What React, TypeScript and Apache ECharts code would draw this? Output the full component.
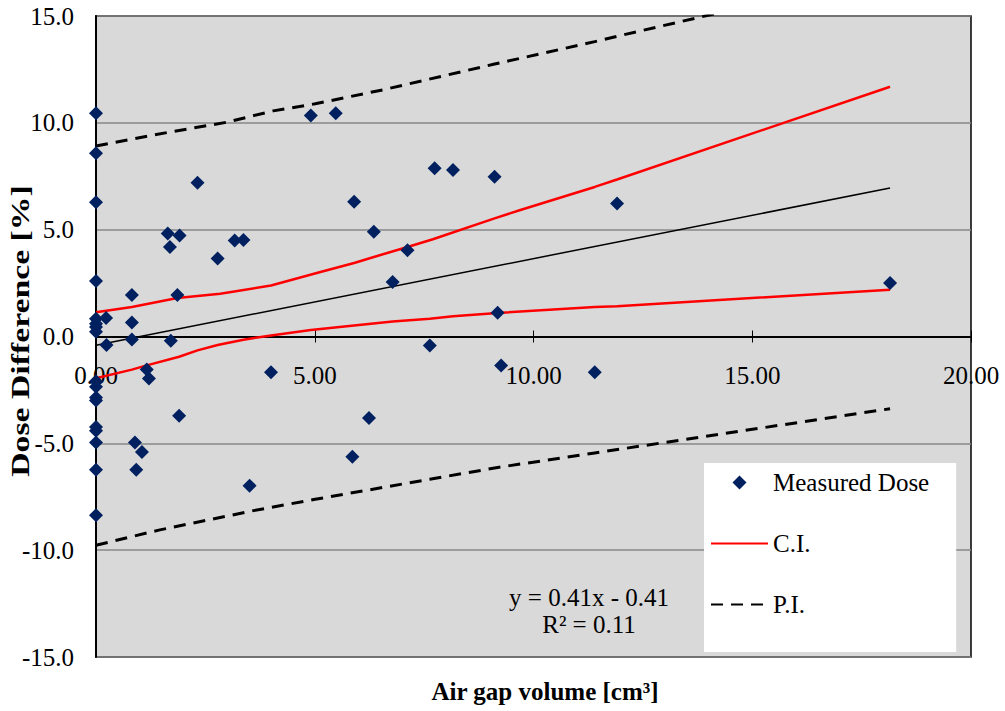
import React, { useEffect, useRef } from "react";
import * as echarts from "echarts";

// Measured dose points (air gap volume [cm3], dose difference [%])
const measuredX = [
  0, 0, 0, 0, 0, 0, 0, 0, 0, 0, 0, 0, 0, 0, 0, 0, 0,
  0.23, 0.24, 0.82, 0.82, 0.82, 0.89, 0.92, 1.05, 1.16, 1.21,
  1.64, 1.69, 1.71, 1.86, 1.9, 1.91, 2.32, 2.78, 3.17, 3.37,
  3.51, 4.0, 4.91, 5.48, 5.86, 5.9, 6.24, 6.35, 6.78, 7.12,
  7.63, 7.74, 8.16, 9.11, 9.18, 9.26, 11.4, 11.91, 18.15,
];
const measuredY = [
  10.45, 8.58, 6.28, 2.6, 0.83, 0.45, 0.22, -2.1, -2.35, -2.85, -3.0, -4.23, -4.41, -4.96, -6.24, -8.36, 0.6,
  0.87, -0.4, 1.94, 0.65, -0.14, -4.96, -6.24, -5.4, -1.55, -1.97,
  4.82, 4.19, -0.2, 1.94, -3.71, 4.73, 7.2, 3.65, 4.49, 4.52,
  -6.98, -1.67, 10.34, 10.45, -5.63, 6.31, -3.82, 4.9, 2.55, 4.04,
  -0.42, 7.87, 7.79, 7.48, 1.11, -1.36, -1.67, 6.23, 2.5,
];

// Confidence interval (upper / lower)
const ciUpperX = [0, 0.82, 1.86, 2.84, 4.0, 5.13, 5.9, 6.35, 7.12, 7.7, 9.11, 9.7, 11.4, 11.91, 18.15];
const ciUpperY = [1.14, 1.38, 1.8, 2.0, 2.39, 3.02, 3.44, 3.72, 4.19, 4.55, 5.53, 5.92, 7.0, 7.35, 11.69];
const ciLowerX = [0, 0.82, 1.16, 1.9, 2.32, 2.78, 3.37, 4.0, 4.91, 5.9, 6.78, 7.63, 8.16, 9.18, 11.4, 11.91, 18.15];
const ciLowerY = [-1.95, -1.55, -1.35, -0.95, -0.65, -0.4, -0.15, 0.05, 0.3, 0.52, 0.7, 0.83, 0.95, 1.1, 1.38, 1.42, 2.19];

// Prediction interval (upper / lower)
const piUpperX = [0, 1.64, 2.99, 4.05, 5.01, 6.57, 9.11, 11.4, 11.91, 18.15];
const piUpperY = [8.92, 9.55, 10.03, 10.56, 10.89, 11.55, 12.75, 13.8, 14.05, 17.0];
const piLowerX = [0, 1.46, 3.6, 5.01, 7.63, 9.18, 11.4, 18.15];
const piLowerY = [-9.77, -9.05, -8.15, -7.62, -6.68, -6.13, -5.45, -3.38];

// Linear trend line
const trendX = [0, 18.15];
const trendY = [-0.41, 6.95];

const xTicks = { min: 0, max: 20, interval: 5 };
const yTicks = { min: -15, max: 15, interval: 5 };

const equationLines = ["y = 0.41x - 0.41", "R² = 0.11"];

const FONT = "'Liberation Serif', 'Times New Roman', serif";

const zip = (xs: number[], ys: number[]) => xs.map((x, i) => [x, ys[i]]);

const GRID_TOP = 16;
const GRID_BOTTOM = 54;
const HEIGHT = 711;
const DASH = [12, 8];

export default function App() {
  const ref = useRef<HTMLDivElement>(null);
  useEffect(() => {
    const chart = echarts.init(ref.current!, null, { renderer: "svg" });
    const lineBase = { type: "line", symbol: "none", silent: true, clip: true };
    const plotH = HEIGHT - GRID_TOP - GRID_BOTTOM;
    const zeroFromBottom = (plotH * (0 - yTicks.min)) / (yTicks.max - yTicks.min);
    const xCommon = {
      type: "value",
      position: "bottom",
      offset: -zeroFromBottom,
      min: xTicks.min,
      max: xTicks.max,
      interval: xTicks.interval,
      splitLine: { show: false },
    };
    chart.setOption({
      animation: false,
      backgroundColor: "#ffffff",
      textStyle: { fontFamily: FONT },
      grid: {
        left: 96,
        right: 34,
        top: GRID_TOP,
        bottom: GRID_BOTTOM,
        show: true,
        backgroundColor: "#d9d9d9",
        borderColor: "#000000",
        borderWidth: 1.5,
      },
      xAxis: [
        {
          ...xCommon,
          axisLine: { show: true, onZero: false, lineStyle: { color: "#000", width: 2 } },
          axisTick: { show: true, length: 6, lineStyle: { color: "#000", width: 1 } },
          axisLabel: {
            show: true,
            showMinLabel: true,
            showMaxLabel: true,
            margin: 26,
            fontSize: 25,
            color: "#000",
            fontFamily: FONT,
            formatter: (v: number) => v.toFixed(2),
          },
        },
        {
          ...xCommon,
          axisLine: { show: false, onZero: false },
          axisTick: { show: true, inside: true, length: 6, lineStyle: { color: "#000", width: 1 } },
          axisLabel: { show: false },
        },
      ],
      yAxis: {
        type: "value",
        min: yTicks.min,
        max: yTicks.max,
        interval: yTicks.interval,
        axisLine: { show: true, onZero: false, lineStyle: { color: "#000", width: 2 } },
        axisTick: { show: false },
        axisLabel: {
          margin: 22,
          fontSize: 25,
          color: "#000",
          fontFamily: FONT,
          formatter: (v: number) => v.toFixed(1),
        },
        splitLine: { show: true, lineStyle: { color: "#878787", width: 1.5 } },
      },
      legend: {
        orient: "vertical",
        left: 704,
        top: 463,
        backgroundColor: "#ffffff",
        padding: [7, 27, 35, 6],
        itemWidth: 57,
        itemHeight: 14,
        itemGap: 36,
        selectedMode: false,
        symbolKeepAspect: true,
        textStyle: { fontSize: 25, color: "#000", fontFamily: FONT },
        data: [
          {
            name: "Measured Dose",
            icon: "path://M0,-1 L1,0 L0,1 L-1,0 Z",
            itemStyle: { color: "#002060", opacity: 1 },
          },
          { name: "C.I.", itemStyle: { opacity: 0 } },
          { name: "P.I.", itemStyle: { opacity: 0 } },
        ],
      },
      graphic: [
        {
          type: "text",
          x: 589,
          y: 597,
          style: {
            text: equationLines[0],
            fontSize: 25,
            fontFamily: FONT,
            fill: "#000",
            align: "center",
            verticalAlign: "middle",
          },
        },
        {
          type: "text",
          x: 589,
          y: 624,
          style: {
            text: equationLines[1],
            fontSize: 25,
            fontFamily: FONT,
            fill: "#000",
            align: "center",
            verticalAlign: "middle",
          },
        },
        {
          type: "text",
          x: 545,
          y: 691,
          style: {
            text: "Air gap volume [cm³]",
            fontSize: 25,
            fontWeight: "bold",
            fontFamily: FONT,
            fill: "#000",
            align: "center",
            verticalAlign: "middle",
          },
        },
        {
          type: "text",
          x: 21,
          y: 331,
          rotation: Math.PI / 2,
          scaleX: 1.35,
          style: {
            text: "Dose Difference [%]",
            fontSize: 25,
            fontWeight: "bold",
            fontFamily: FONT,
            fill: "#000",
            align: "center",
            verticalAlign: "middle",
          },
        },
      ],
      series: [
        {
          ...lineBase,
          name: "Trend",
          data: zip(trendX, trendY),
          lineStyle: { color: "#000", width: 1.5 },
          z: 2,
        },
        {
          ...lineBase,
          name: "C.I.",
          data: zip(ciUpperX, ciUpperY),
          color: "#ff0000",
          lineStyle: { color: "#ff0000", width: 2.5 },
          z: 3,
        },
        {
          ...lineBase,
          name: "C.I.",
          data: zip(ciLowerX, ciLowerY),
          color: "#ff0000",
          lineStyle: { color: "#ff0000", width: 2.5 },
          z: 3,
        },
        {
          ...lineBase,
          name: "P.I.",
          data: zip(piUpperX, piUpperY),
          color: "#000",
          lineStyle: { color: "#000", width: 3, type: DASH },
          z: 3,
        },
        {
          ...lineBase,
          name: "P.I.",
          data: zip(piLowerX, piLowerY),
          color: "#000",
          lineStyle: { color: "#000", width: 3, type: DASH },
          z: 3,
        },
        {
          type: "scatter",
          name: "Measured Dose",
          data: zip(measuredX, measuredY),
          symbol: "diamond",
          symbolSize: 14,
          itemStyle: { color: "#002060", opacity: 1 },
          z: 5,
        },
      ],
    });
    return () => chart.dispose();
  }, []);
  return (
    <div
      ref={ref}
      style={{ position: "fixed", left: 0, top: 0, width: 1005, height: 711 }}
    />
  );
}
